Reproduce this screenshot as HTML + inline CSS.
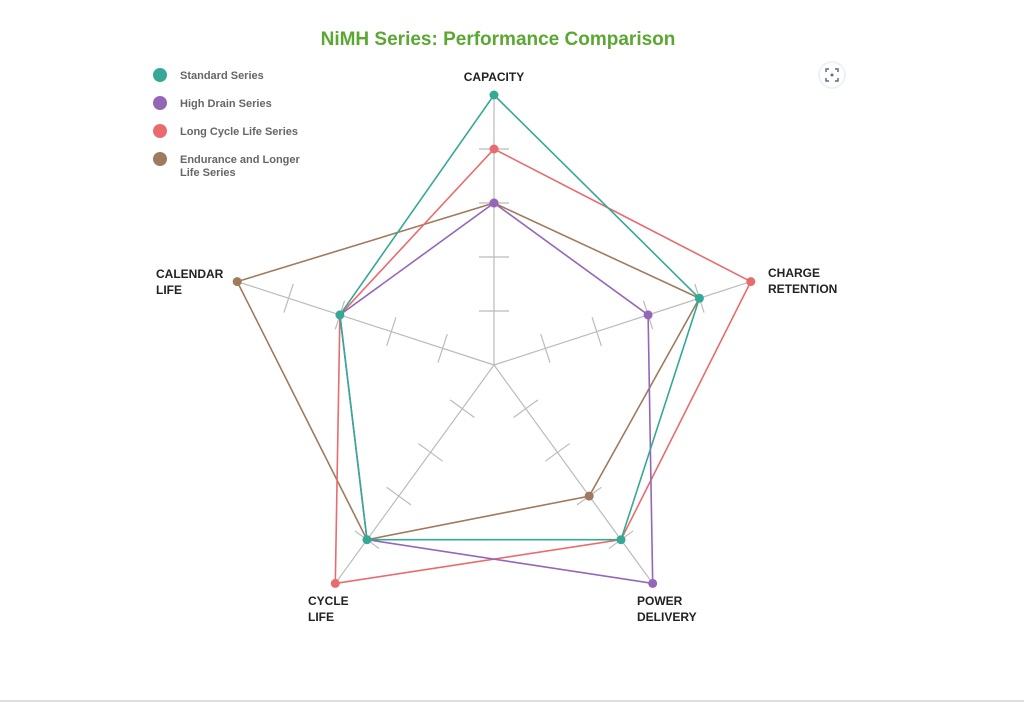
<!DOCTYPE html>
<html><head><meta charset="utf-8"><style>
html,body{margin:0;padding:0;background:#fff;}
body{width:1024px;height:704px;position:relative;overflow:hidden;font-family:"Liberation Sans",sans-serif;}
</style></head><body>
<svg width="1024" height="704" viewBox="0 0 1024 704" xmlns="http://www.w3.org/2000/svg" style="position:absolute;left:0;top:0">
<text x="498" y="45" text-anchor="middle" font-family="Liberation Sans, sans-serif" font-weight="bold" font-size="19" fill="#5aa832">NiMH Series: Performance Comparison</text>
<g font-family="Liberation Sans, sans-serif" font-weight="bold" font-size="11" fill="#666">
<circle cx="160" cy="75" r="7" fill="#35a896"/><text x="180" y="79">Standard Series</text>
<circle cx="160" cy="103" r="7" fill="#9466b8"/><text x="180" y="107">High Drain Series</text>
<circle cx="160" cy="131" r="7" fill="#e86b6e"/><text x="180" y="135">Long Cycle Life Series</text>
<circle cx="160" cy="159" r="7" fill="#a07a5c"/><text x="180" y="163">Endurance and Longer</text><text x="180" y="176">Life Series</text>
</g>
<g>
<circle cx="832" cy="75" r="13" fill="#fff" stroke="#eef2f6" stroke-width="2"/>
<path d="M826 72v-3h3M835 69h3v3M838 78v3h-3M829 81h-3v-3" fill="none" stroke="#5a6f8a" stroke-width="1.5"/>
<circle cx="832" cy="75" r="1.5" fill="#5a6f8a"/>
</g>
<defs>
<g id="ax" stroke="#bbb" stroke-width="1.2">
<line x1="494" y1="365" x2="494" y2="95"/>
<line x1="479" y1="311" x2="509" y2="311"/>
<line x1="479" y1="257" x2="509" y2="257"/>
<line x1="479" y1="203" x2="509" y2="203"/>
<line x1="479" y1="149" x2="509" y2="149"/>
</g>
</defs>
<use href="#ax"/>
<use href="#ax" transform="rotate(72 494 365)"/>
<use href="#ax" transform="rotate(144 494 365)"/>
<use href="#ax" transform="rotate(216 494 365)"/>
<use href="#ax" transform="rotate(288 494 365)"/>
<g fill="none" stroke-width="1.6">
<polygon points="494,203 699.4,298.3 589.2,496.1 367,539.7 237.2,281.6" stroke="#a07a5c"/>
<polygon points="494,149 750.8,281.6 621,539.7 335.3,583.4 339.9,314.9" stroke="#e86b6e"/>
<polygon points="494,203 648.1,314.9 652.7,583.4 367,539.7 339.9,314.9" stroke="#9466b8"/>
<polygon points="494,95 699.4,298.3 621,539.7 367,539.7 339.9,314.9" stroke="#35a896"/>
</g>
<g>
<circle cx="494" cy="203" r="4.5" fill="#a07a5c"/><circle cx="589.2" cy="496.1" r="4.5" fill="#a07a5c"/><circle cx="237.2" cy="281.6" r="4.5" fill="#a07a5c"/>
<circle cx="494" cy="149" r="4.5" fill="#e86b6e"/><circle cx="750.8" cy="281.6" r="4.5" fill="#e86b6e"/><circle cx="335.3" cy="583.4" r="4.5" fill="#e86b6e"/>
<circle cx="494" cy="203" r="4.5" fill="#9466b8"/><circle cx="648.1" cy="314.9" r="4.5" fill="#9466b8"/><circle cx="652.7" cy="583.4" r="4.5" fill="#9466b8"/>
<circle cx="494" cy="95" r="4.5" fill="#35a896"/><circle cx="699.4" cy="298.3" r="4.5" fill="#35a896"/><circle cx="621" cy="539.7" r="4.5" fill="#35a896"/><circle cx="367" cy="539.7" r="4.5" fill="#35a896"/><circle cx="339.9" cy="314.9" r="4.5" fill="#35a896"/>
</g>
<g font-family="Liberation Sans, sans-serif" font-weight="bold" font-size="12" fill="#222">
<text x="494" y="81" text-anchor="middle">CAPACITY</text>
<text x="768" y="277">CHARGE</text><text x="768" y="293">RETENTION</text>
<text x="637" y="605">POWER</text><text x="637" y="621">DELIVERY</text>
<text x="308" y="605">CYCLE</text><text x="308" y="621">LIFE</text>
<text x="156" y="278">CALENDAR</text><text x="156" y="294">LIFE</text>
</g>
<line x1="0" y1="701" x2="1024" y2="701" stroke="#ddd" stroke-width="2"/>
</svg>
</body></html>
